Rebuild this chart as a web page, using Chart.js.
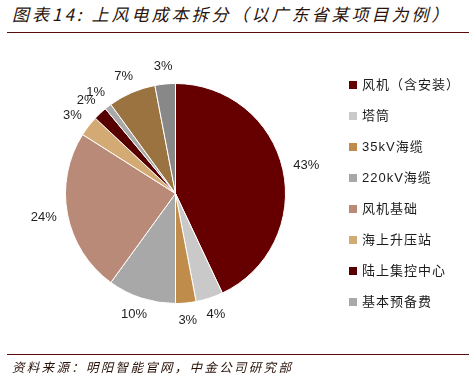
<!DOCTYPE html>
<html>
<head>
<meta charset="utf-8">
<script src="https://cdn.jsdelivr.net/npm/chart.js@4/dist/chart.umd.min.js"></script>
<style>
  html, body { margin:0; padding:0; background:#fff; }
  body { width:469px; height:379px; position:relative; overflow:hidden; font-family:"Noto Sans CJK SC", sans-serif; }
  #title { position:absolute; left:12px; top:2px; font-size:17px; letter-spacing:3px; font-style:italic; color:#2a1208; white-space:nowrap; line-height:24px; }
  #line1 { position:absolute; left:7px; right:0; top:32px; height:0; border-top:1.5px solid #5a0a0a; }
  #line2 { position:absolute; left:7px; right:0; top:354px; height:0; border-top:1.5px solid #5a0a0a; }
  #source { position:absolute; left:12px; top:358px; font-size:12.5px; letter-spacing:2.3px; font-style:italic; color:#2a1208; white-space:nowrap; line-height:18px; }
  #wrap { position:absolute; left:0; top:0; width:469px; height:379px; }
  #legend { position:absolute; left:349px; top:75px; }
  .li { position:absolute; left:0; height:18px; white-space:nowrap; font-size:13px; letter-spacing:1px; color:#1a1a1a; line-height:18px; }
  .sw { display:inline-block; width:8px; height:8px; margin-right:5px; vertical-align:0px; }
  .lt { font-family:"Liberation Sans","Noto Sans CJK SC",sans-serif; }
</style>
</head>
<body>
<div id="title">图表14: 上风电成本拆分（以广东省某项目为例）</div>
<div id="line1"></div>
<div id="wrap"><canvas id="c" width="469" height="379"></canvas></div>
<div id="legend"></div>
<div id="line2"></div>
<div id="source">资料来源：明阳智能官网，中金公司研究部</div>
<script>
const categories = ["风机（含安装）","塔筒","35kV海缆","220kV海缆","风机基础","海上升压站","陆上集控中心","基本预备费","其他费用","建设期利息"];
const values = [43, 4, 3, 10, 24, 3, 2, 1, 7, 3];
const percentLabels = ["43%","4%","3%","10%","24%","3%","2%","1%","7%","3%"];
const colors = ["#660000","#c9c9c9","#c08c4c","#a8a8a8","#b98a78","#d4aa74","#560000","#a9a9a9","#9b7340","#888888"];
const legendCount = 8;

const outsideLabels = {
  id: 'outsideLabels',
  afterDatasetsDraw(chart) {
    const ctx = chart.ctx;
    const meta = chart.getDatasetMeta(0);
    ctx.save();
    ctx.font = '13px "Liberation Sans", sans-serif';
    ctx.fillStyle = '#1e1e1e';
    ctx.textAlign = 'center';
    ctx.textBaseline = 'middle';
    meta.data.forEach((arc, i) => {
      const p = arc.getProps(['x','y','startAngle','endAngle','outerRadius'], true);
      const mid = (p.startAngle + p.endAngle) / 2;
      const dx = Math.cos(mid), dy = Math.sin(mid);
      const txt = percentLabels[i];
      const w = ctx.measureText(txt).width, h = 13;
      const d = p.outerRadius + 11;
      const x = p.x + dx * d + dx * w / 2;
      const y = p.y + dy * d + dy * h / 2;
      ctx.fillText(txt, x, y);
    });
    ctx.restore();
  }
};

new Chart(document.getElementById('c'), {
  type: 'pie',
  data: {
    labels: categories,
    datasets: [{ data: values, backgroundColor: colors, borderColor: '#ffffff', borderWidth: 1, hoverOffset: 0 }]
  },
  options: {
    responsive: false,
    animation: false,
    layout: { padding: { left: 65, right: 183, top: 83, bottom: 75 } },
    plugins: { legend: { display: false }, tooltip: { enabled: false } }
  },
  plugins: [outsideLabels]
});

const leg = document.getElementById('legend');
for (let i = 0; i < legendCount; i++) {
  const d = document.createElement('div');
  d.className = 'li';
  d.style.top = (i * 31) + 'px';
  const sw = document.createElement('span');
  sw.className = 'sw';
  sw.style.background = colors[i];
  const t = document.createElement('span');
  t.className = 'lt';
  t.textContent = categories[i];
  d.appendChild(sw); d.appendChild(t);
  leg.appendChild(d);
}
</script>
</body>
</html>
